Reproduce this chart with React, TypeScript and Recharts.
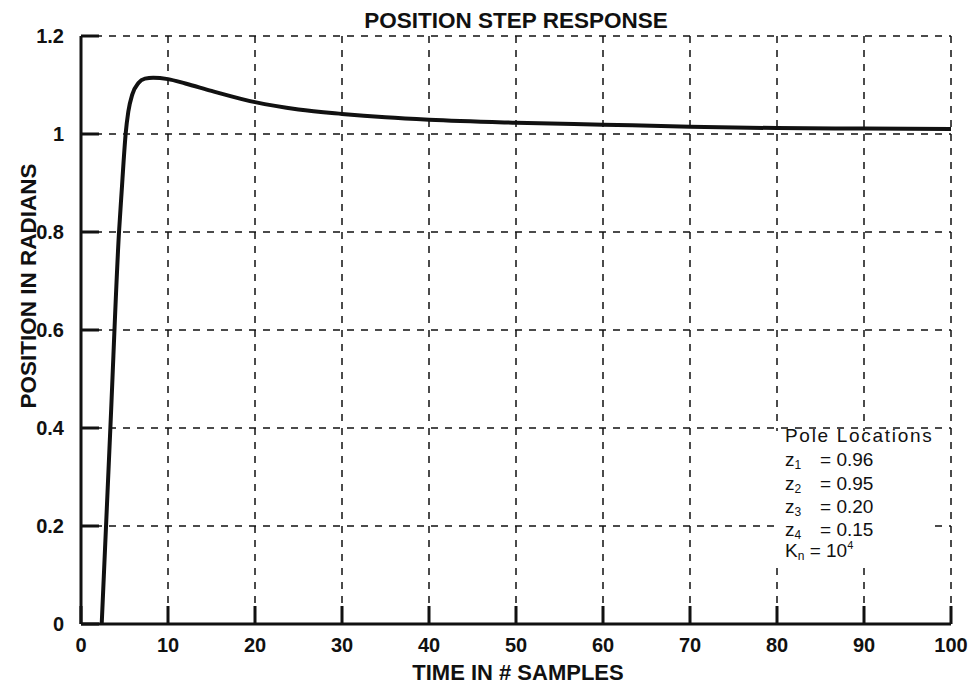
import { CartesianGrid, Line, LineChart, XAxis, YAxis } from 'recharts';

// step response (time in samples, position in radians)
const TIME = [2.38, 3.4, 4.37, 4.7, 4.9, 5.13, 5.44, 5.9, 6.6, 7.35, 8.3, 10, 12, 15, 20, 25, 30, 35, 40, 50, 60, 70, 80, 90, 100];
const POSITION = [0, 0.41, 0.8, 0.89, 0.945, 1.0, 1.046, 1.081, 1.104, 1.113, 1.115, 1.112, 1.103, 1.088, 1.065, 1.05, 1.041, 1.034, 1.029, 1.023, 1.019, 1.015, 1.012, 1.011, 1.01];

const X_TICKS = [0, 10, 20, 30, 40, 50, 60, 70, 80, 90, 100];
const Y_TICKS = [0, 0.2, 0.4, 0.6, 0.8, 1, 1.2];

const POLE_SUBS = ['1', '2', '3', '4'];
const POLE_VALUES = ['0.96', '0.95', '0.20', '0.15'];
const GAIN_EXP = '4';

const FONT = '"Liberation Sans", Arial, Helvetica, sans-serif';
const INK = '#111';

const data = TIME.map((t, i) => ({ t, v: POSITION[i] }));

const W = 975;
const H = 685;
// plot box edges (follow from the margins / axis sizes below)
const LEFT = 81;
const RIGHT = 951;
const TOP = 36;
const BOTTOM = 624;
const TICK = 18;

const labelProps = { fontSize: 20, fontWeight: 700, fill: INK, fontFamily: FONT };

// ticks point into the plot on all four sides, so they are drawn by hand
function BottomTick({ x, y, payload }: any) {
  return (
    <g>
      <rect x={x - 1.5} y={BOTTOM - TICK} width={3} height={TICK} fill={INK} />
      <text x={x} y={y} dy="0.71em" textAnchor="middle" {...labelProps}>
        {payload.value}
      </text>
    </g>
  );
}

function LeftTick({ x, y, payload }: any) {
  return (
    <g>
      <rect x={LEFT} y={y - 1.5} width={TICK} height={3} fill={INK} />
      <text x={x} y={y} dy="0.36em" textAnchor="end" {...labelProps}>
        {payload.value}
      </text>
    </g>
  );
}

function TopTick({ x }: any) {
  return <rect x={x - 1.5} y={TOP} width={3} height={TICK} fill={INK} />;
}

function RightTick({ y }: any) {
  return <rect x={RIGHT - TICK} y={y - 1.5} width={TICK} height={3} fill={INK} />;
}

export default function App() {
  const axisLine = { stroke: INK, strokeWidth: 3 };
  const poleRows = [466, 490, 513, 536];

  return (
    <div style={{ position: 'absolute', left: 0, top: 0, width: W, height: H, background: '#fff' }}>
      <LineChart width={W} height={H} data={data} margin={{ top: TOP, right: W - RIGHT, bottom: 0, left: 0 }}>
        <CartesianGrid stroke={INK} strokeWidth={1.5} strokeDasharray="7 7" />
        <XAxis
          dataKey="t"
          type="number"
          domain={[0, 100]}
          ticks={X_TICKS}
          height={H - BOTTOM}
          tick={<BottomTick />}
          tickSize={0}
          tickMargin={14}
          tickLine={false}
          axisLine={axisLine}
        />
        <XAxis
          xAxisId="top"
          orientation="top"
          dataKey="t"
          type="number"
          domain={[0, 100]}
          ticks={X_TICKS}
          height={0}
          tick={<TopTick />}
          tickSize={0}
          tickLine={false}
          axisLine={axisLine}
        />
        <YAxis
          type="number"
          domain={[0, 1.2]}
          ticks={Y_TICKS}
          width={LEFT}
          tick={<LeftTick />}
          tickSize={0}
          tickMargin={17}
          tickLine={false}
          axisLine={axisLine}
        />
        <YAxis
          yAxisId="right"
          orientation="right"
          type="number"
          domain={[0, 1.2]}
          ticks={Y_TICKS}
          width={0}
          tick={<RightTick />}
          tickSize={0}
          tickLine={false}
          axisLine={axisLine}
        />
        <Line
          dataKey="v"
          type="monotone"
          stroke={INK}
          strokeWidth={4}
          dot={false}
          isAnimationActive={false}
        />
      </LineChart>

      <svg
        width={W}
        height={H}
        style={{ position: 'absolute', left: 0, top: 0, pointerEvents: 'none' }}
        fontFamily={FONT}
        fill={INK}
      >
        <text x={516} y={28} fontSize={22.5} fontWeight={700} textAnchor="middle">
          POSITION STEP RESPONSE
        </text>
        <text x={518} y={680} fontSize={22} fontWeight={700} textAnchor="middle">
          TIME IN # SAMPLES
        </text>
        <text
          x={36}
          y={286}
          fontSize={22.5}
          fontWeight={700}
          textAnchor="middle"
          transform="rotate(-90, 36, 286)"
        >
          POSITION IN RADIANS
        </text>

        {/* the legend box blanks out the grid behind it */}
        <rect x={775} y={431} width={158} height={133} fill="#fff" />
        <g fontSize={19}>
          <text x={785} y={442} letterSpacing={1.7}>Pole Locations</text>
          {POLE_SUBS.map((s, i) => (
            <g key={s}>
              <text x={785} y={poleRows[i]}>
                z<tspan fontSize={12} dy={3}>{s}</tspan>
              </text>
              <text x={820} y={poleRows[i]}>= {POLE_VALUES[i]}</text>
            </g>
          ))}
          <text x={785} y={557}>
            K<tspan fontSize={12} dy={3}>n</tspan>
            <tspan dy={-3}> = 10</tspan>
            <tspan fontSize={11} dy={-8}>{GAIN_EXP}</tspan>
          </text>
        </g>
      </svg>
    </div>
  );
}
